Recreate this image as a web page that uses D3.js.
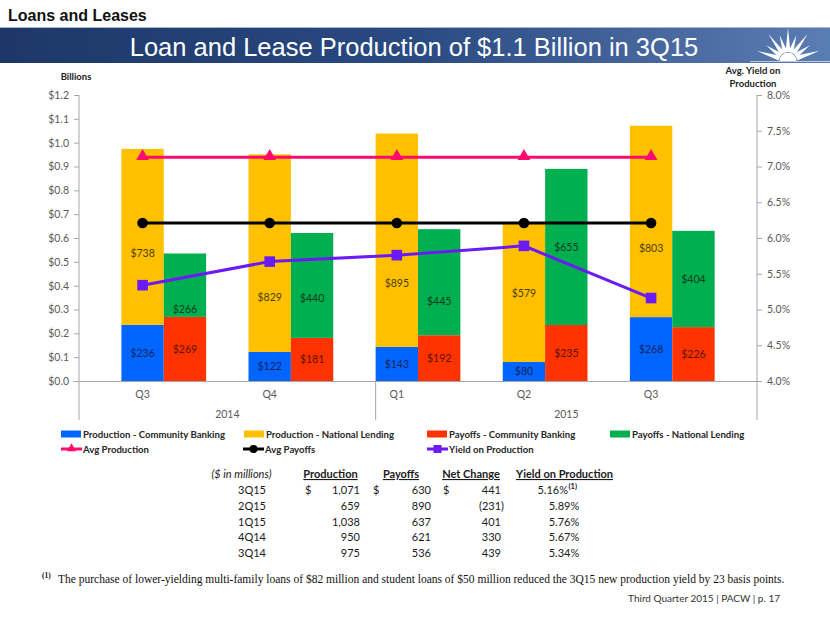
<!DOCTYPE html>
<html><head><meta charset="utf-8">
<script src="https://cdn.jsdelivr.net/npm/d3@7"></script>
<style>
body{margin:0;background:#fff}
svg{display:block}
</style>
</head><body>
<svg id="c" width="830" height="623" font-family="Lato, 'Open Sans', sans-serif"></svg>
<script>
// ---------------- DATA ----------------
const quarters = ["Q3","Q4","Q1","Q2","Q3"];
const years = ["2014","2014","2015","2015","2015"];
const prodCommunity = [236,122,143,80,268];
const prodNational = [738,829,895,579,803];
const payCommunity = [269,181,192,235,226];
const payNational = [266,440,445,655,404];
const avgProduction = [938.6,938.6,938.6,938.6,938.6];
const avgPayoffs = [662.8,662.8,662.8,662.8,662.8];
const yieldProduction = [5.34,5.67,5.76,5.89,5.16];
const leftTicks = [0,0.1,0.2,0.3,0.4,0.5,0.6,0.7,0.8,0.9,1.0,1.1,1.2];
const rightTicks = [4.0,4.5,5.0,5.5,6.0,6.5,7.0,7.5,8.0];

const tableQuarters = ["3Q15","2Q15","1Q15","4Q14","3Q14"];
const tableProduction = [1071,659,1038,950,975];
const tablePayoffs = [630,890,637,621,536];
const tableNetChange = [441,-231,401,330,439];
const tableYield = [5.16,5.89,5.76,5.67,5.34];

// ---------------- DRAW ----------------
const svg = d3.select("#c");
const ARIAL = "Liberation Sans, Arial, sans-serif";
const SERIF = "Liberation Serif, Times New Roman, serif";
const defs = svg.append("defs");
const grad = defs.append("linearGradient").attr("id","ban").attr("x1","0").attr("x2","1").attr("y1","0").attr("y2","0");
grad.append("stop").attr("offset","0").attr("stop-color","#1d3768");
grad.append("stop").attr("offset","0.5").attr("stop-color","#2a4a82");
grad.append("stop").attr("offset","1").attr("stop-color","#5a7db3");

// header
svg.append("text").attr("x",8).attr("y",21).attr("font-family",ARIAL)
  .attr("font-weight","bold").attr("font-size",16).attr("fill","#111").text("Loans and Leases");
svg.append("line").attr("x1",0).attr("x2",830).attr("y1",27.5).attr("y2",27.5).attr("stroke","#a9b6c8");
svg.append("rect").attr("x",0).attr("y",28).attr("width",830).attr("height",35).attr("fill","url(#ban)");
svg.append("text").attr("x",414).attr("y",56).attr("text-anchor","middle")
  .attr("font-family",ARIAL).attr("font-size",25.5).attr("fill","#fff")
  .text("Loan and Lease Production of $1.1 Billion in 3Q15");
// logo sunburst
const logo = svg.append("g").attr("transform","translate(788,61)").attr("fill","#fff");
const rayAngles = [-162,-144,-126,-108,-90,-72,-54,-36,-18];
rayAngles.forEach((a,i)=>{
  const r = a*Math.PI/180, len = (i%2===0)?33:27, w=5;
  const px = Math.cos(r+Math.PI/2)*w/2, py = Math.sin(r+Math.PI/2)*w/2;
  const bx = Math.cos(r)*9, by = Math.sin(r)*9;
  logo.append("path").attr("d",`M${bx+px},${by+py}L${Math.cos(r)*len},${Math.sin(r)*len}L${bx-px},${by-py}Z`);
});
logo.append("path").attr("d",d3.arc()({innerRadius:0,outerRadius:8.5,startAngle:-Math.PI/2,endAngle:Math.PI/2}));
svg.append("rect").attr("x",750).attr("y",61).attr("width",80).attr("height",1).attr("fill","#fff").attr("opacity",0.6);

// scales
const L = 79, R = 757, T = 95, B = 381;
const keys = quarters.map((q,i)=>years[i]+"-"+q);
const x = d3.scaleBand().domain(keys).range([L,R]).paddingInner(1/3).paddingOuter(1/3);
const half = x.bandwidth()/2;
const yL = d3.scaleLinear().domain([0,1.2]).range([B,T]);
const yR = d3.scaleLinear().domain([4,8]).range([B,T]);

const axisCol = "#a6a6a6", tickTxt = "#595959";
// axes
const gl = svg.append("g").attr("transform",`translate(${L},0)`)
  .call(d3.axisLeft(yL).tickValues(leftTicks).tickFormat(d=>"$"+d.toFixed(1)).tickSize(5).tickSizeOuter(0).tickPadding(5));
const gr = svg.append("g").attr("transform",`translate(${R},0)`)
  .call(d3.axisRight(yR).tickValues(rightTicks).tickFormat(d=>d.toFixed(1)+"%").tickSize(5).tickSizeOuter(0).tickPadding(5));
[gl,gr].forEach(g=>{
  g.attr("font-family",null);
  g.select(".domain").remove();
  g.selectAll(".tick line").attr("stroke",axisCol);
  g.selectAll(".tick text").attr("fill",tickTxt).attr("font-size",10.5);
});
// vertical lines incl. multi-level separators
[L, x(keys[2]), R].forEach(v=>{
  svg.append("line").attr("x1",v).attr("x2",v).attr("y1",v===x(keys[2])?B:T).attr("y2",420).attr("stroke",axisCol);
});

// stacked bars
const prodRows = keys.map((k,i)=>({key:k, a:prodCommunity[i]/1000, b:prodNational[i]/1000}));
const payRows = keys.map((k,i)=>({key:k, a:payCommunity[i]/1000, b:payNational[i]/1000}));
const stack = d3.stack().keys(["a","b"]);
const prodStack = stack(prodRows), payStack = stack(payRows);
const colors = {prodA:"#0066FF", prodB:"#FFC000", payA:"#FF3300", payB:"#00B050"};
const lblCol = {prodA:"#14235a", prodB:"#4d3d05", payA:"#5a1205", payB:"#0c3a1e"};

function drawStack(st, off, names){
  st.forEach((layer,li)=>{
    const nm = names[li];
    svg.append("g").selectAll("rect").data(layer).join("rect")
      .attr("x",d=>x(d.data.key)+off).attr("width",half)
      .attr("y",d=>yL(d[1])).attr("height",d=>yL(d[0])-yL(d[1]))
      .attr("fill",colors[nm]);
  });
}
drawStack(prodStack,0,["prodA","prodB"]);
drawStack(payStack,half,["payA","payB"]);

// line series
const cx = k => x(k)+half/2;
const lineGen = (ys, sc) => d3.line().x((d,i)=>cx(keys[i])).y(d=>sc(d))(ys);
svg.append("path").attr("d",lineGen(avgProduction.map(v=>v/1000),yL)).attr("fill","none").attr("stroke","#FF0A6E").attr("stroke-width",3);
svg.append("path").attr("d",lineGen(avgPayoffs.map(v=>v/1000),yL)).attr("fill","none").attr("stroke","#000").attr("stroke-width",3);
svg.append("path").attr("d",lineGen(yieldProduction,yR)).attr("fill","none").attr("stroke","#6A1BF5").attr("stroke-width",3);
const tri = d3.symbol().type(d3.symbolTriangle).size(70);
svg.append("g").selectAll("path").data(avgProduction).join("path")
  .attr("transform",(d,i)=>`translate(${cx(keys[i])},${yL(d/1000)-1})`).attr("d",tri()).attr("fill","#FF0A6E");
svg.append("g").selectAll("circle").data(avgPayoffs).join("circle")
  .attr("cx",(d,i)=>cx(keys[i])).attr("cy",d=>yL(d/1000)).attr("r",5.3).attr("fill","#000");
svg.append("g").selectAll("rect").data(yieldProduction).join("rect")
  .attr("x",(d,i)=>cx(keys[i])-5.3).attr("y",d=>yR(d)-5.3).attr("width",10.6).attr("height",10.6).attr("fill","#6A1BF5");

// data labels (segment centres, some moved clear of the lines as in the original)
const labelAt = {prodB:[0.537,0.353,0.411,null,0.558], payB:[0.302,0.348,0.336,null,null]};
function drawLabels(st, off, names){
  st.forEach((layer,li)=>{
    const nm = names[li];
    layer.forEach((d,i)=>{
      const v = d[1]-d[0];
      const pos = (labelAt[nm] && labelAt[nm][i]!=null) ? labelAt[nm][i] : (d[0]+d[1])/2;
      svg.append("text").attr("x",x(d.data.key)+off+half/2).attr("y",yL(pos)+3.8)
        .attr("text-anchor","middle").attr("font-size",10.5).attr("fill",lblCol[nm])
        .text("$"+Math.round(v*1000));
    });
  });
}
drawLabels(prodStack,0,["prodA","prodB"]);
drawLabels(payStack,half,["payA","payB"]);

// x axis line and labels
svg.append("line").attr("x1",L-6).attr("x2",R).attr("y1",B+0.5).attr("y2",B+0.5).attr("stroke",axisCol);
svg.append("g").selectAll("text").data(keys).join("text")
  .attr("x",k=>cx(k)).attr("y",398).attr("text-anchor","middle").attr("font-size",10.5).attr("fill",tickTxt)
  .text((k,i)=>quarters[i]);
const yearNames = Array.from(new Set(years));
yearNames.forEach(yv=>{
  const idx = keys.filter((k,i)=>years[i]===yv);
  const first = keys.indexOf(idx[0]), last = keys.indexOf(idx[idx.length-1]);
  const x0 = first===0?L:x(keys[first]);
  const x1 = last===keys.length-1?R:x(keys[last+1]);
  svg.append("text").attr("x",(x0+x1)/2).attr("y",418).attr("text-anchor","middle").attr("font-size",10.5).attr("fill",tickTxt).text(yv);
});

// axis titles
svg.append("text").attr("x",76).attr("y",80).attr("text-anchor","middle").attr("font-size",9.5).attr("font-weight","bold").attr("fill","#222").text("Billions");
svg.append("text").attr("x",753).attr("y",74).attr("text-anchor","middle").attr("font-size",9.5).attr("font-weight","bold").attr("fill","#222").text("Avg. Yield on");
svg.append("text").attr("x",753).attr("y",87).attr("text-anchor","middle").attr("font-size",9.5).attr("font-weight","bold").attr("fill","#222").text("Production");

// legend
const leg = [
  {t:"Production - Community Banking", c:colors.prodA, x:61, y:434, k:"box"},
  {t:"Production - National Lending", c:colors.prodB, x:244, y:434, k:"box"},
  {t:"Payoffs - Community Banking", c:colors.payA, x:427, y:434, k:"box"},
  {t:"Payoffs - National Lending", c:colors.payB, x:610, y:434, k:"box"},
  {t:"Avg Production", c:"#FF0A6E", x:61, y:449, k:"tri"},
  {t:"Avg Payoffs", c:"#000", x:243, y:449, k:"circ"},
  {t:"Yield on Production", c:"#6A1BF5", x:427, y:449, k:"sq"}
];
leg.forEach(l=>{
  const g = svg.append("g");
  if(l.k==="box"){
    g.append("rect").attr("x",l.x).attr("y",l.y-3.5).attr("width",20).attr("height",7).attr("fill",l.c);
  } else {
    g.append("line").attr("x1",l.x).attr("x2",l.x+21).attr("y1",l.y).attr("y2",l.y).attr("stroke",l.c).attr("stroke-width",3);
    if(l.k==="tri") g.append("path").attr("transform",`translate(${l.x+10.5},${l.y-0.5})`).attr("d",d3.symbol().type(d3.symbolTriangle).size(36)()).attr("fill",l.c);
    if(l.k==="circ") g.append("circle").attr("cx",l.x+10.5).attr("cy",l.y).attr("r",4).attr("fill",l.c);
    if(l.k==="sq") g.append("rect").attr("x",l.x+6.5).attr("y",l.y-4).attr("width",8).attr("height",8).attr("fill",l.c);
  }
  g.append("text").attr("x",l.x+22).attr("y",l.y+3.5).attr("font-size",9.6).attr("font-weight","bold").attr("fill","#262626").text(l.t);
});

// table
const fmt = d3.format(",");
const tbl = svg.append("g").attr("font-size",11).attr("fill","#1a1a1a");
tbl.append("text").attr("x",241.5).attr("y",478).attr("text-anchor","middle").attr("font-style","italic").text("($ in millions)");
[["Production",330.5],["Payoffs",401],["Net Change",471],["Yield on Production",564.5]].forEach(h=>{
  tbl.append("text").attr("x",h[1]).attr("y",478).attr("text-anchor","middle").attr("font-weight","bold")
    .style("text-decoration","underline").text(h[0]);
});
const rowY = [494,510,525.5,541,556.5];
tableQuarters.forEach((q,i)=>{
  const yy = rowY[i];
  tbl.append("text").attr("x",252).attr("y",yy).attr("text-anchor","middle").text(q);
  tbl.append("text").attr("x",360).attr("y",yy).attr("text-anchor","end").text(fmt(tableProduction[i]));
  tbl.append("text").attr("x",431).attr("y",yy).attr("text-anchor","end").text(fmt(tablePayoffs[i]));
  const n = tableNetChange[i];
  tbl.append("text").attr("x",n<0?504:501).attr("y",yy).attr("text-anchor","end").text(n<0?"("+fmt(-n)+")":fmt(n));
  if(i===0){
    ["$","$","$"].forEach((s,j)=>tbl.append("text").attr("x",[305,373,443][j]).attr("y",yy).text(s));
    tbl.append("text").attr("x",568).attr("y",yy).attr("text-anchor","end").text(tableYield[i].toFixed(2)+"%");
    tbl.append("text").attr("x",568.5).attr("y",yy-5).attr("font-size",7.5).attr("font-weight","bold").text("(1)");
  } else {
    tbl.append("text").attr("x",564).attr("y",yy).attr("text-anchor","middle").text(tableYield[i].toFixed(2)+"%");
  }
});

// footnote
svg.append("text").attr("x",42).attr("y",578).attr("font-family",SERIF).attr("font-size",7.5).attr("font-weight","bold").attr("fill","#111").text("(1)");
svg.append("text").attr("x",58).attr("y",583).attr("font-family",SERIF).attr("font-size",11.5).attr("fill","#111")
  .text("The purchase of lower-yielding multi-family loans of $82 million and student loans of $50 million reduced the 3Q15 new production yield by 23 basis points.");
svg.append("text").attr("x",780).attr("y",601.5).attr("text-anchor","end").attr("font-size",10).attr("fill","#333").text("Third Quarter 2015 | PACW | p. 17");
</script>
</body></html>
